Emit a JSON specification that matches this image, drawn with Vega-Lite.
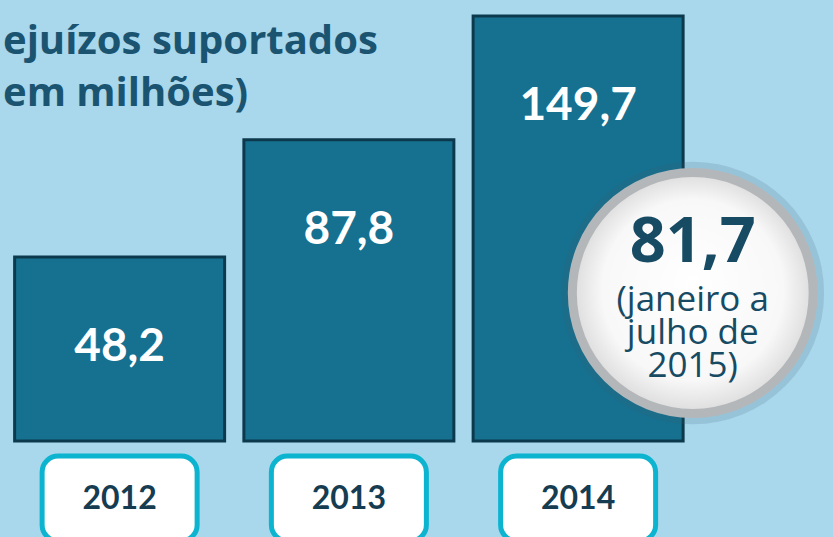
{
  "$schema": "https://vega.github.io/schema/vega-lite/v6.json",
  "background": "#a9d7ec",
  "padding": 0,
  "config": {
    "view": {"stroke": null},
    "locale": {"number": {"decimal": ",", "thousands": ".", "grouping": [3], "currency": ["", " €"]}}
  },
  "spacing": 10,
  "datasets": {
    "anos": [
      {"ano": 2012, "prejuizo": 48.2},
      {"ano": 2013, "prejuizo": 87.8},
      {"ano": 2014, "prejuizo": 149.7}
    ],
    "periodo": [
      {"ano": 2014.5, "prejuizo": 81.7, "rotulo": "(janeiro a\njulho de\n2015)"}
    ]
  },
  "vconcat": [
    {
      "width": 833,
      "height": 441,
      "title": {
        "text": ["ejuízos suportados", "em milhões)"],
        "anchor": "start",
        "frame": "group",
        "orient": "top",
        "offset": -146,
        "baseline": "alphabetic",
        "dx": 3,
        "font": "Open Sans",
        "fontSize": 40,
        "fontWeight": "bold",
        "color": "#1a5470",
        "lineHeight": 52
      },
      "layer": [
        {
          "data": {"name": "anos"},
          "encoding": {
            "x": {"field": "ano", "type": "quantitative", "scale": {"domain": [2011.5, 2015.09], "nice": false, "zero": false}, "axis": null},
            "y": {"field": "prejuizo", "type": "quantitative", "scale": {"type": "pow", "exponent": 0.3, "domain": [14.04, 159.5], "zero": false, "nice": false, "clamp": true}, "axis": null}
          },
          "layer": [
            {"mark": {"type": "bar", "size": 210, "fill": "#167090", "stroke": "#0c3a4c", "strokeWidth": 3},
             "encoding": {"y2": {"datum": 0}}},
            {"mark": {"type": "text", "font": "Lato", "fontWeight": "bold", "fontSize": 46, "color": "#ffffff", "baseline": "middle", "dy": 90},
             "encoding": {"text": {"field": "prejuizo", "type": "quantitative", "format": ".1f"}}}
          ]
        },
        {
          "data": {"name": "periodo"},
          "encoding": {
            "x": {"field": "ano", "type": "quantitative"},
            "y": {"field": "prejuizo", "type": "quantitative", "scale": {"domain": [0, 243.4], "nice": false}, "axis": null}
          },
          "layer": [
            {"mark": {"type": "point", "shape": "circle", "filled": true, "size": 69000, "fill": "#3d5f6e", "opacity": 0.16, "strokeWidth": 0}},
            {"mark": {"type": "point", "shape": "circle", "filled": true, "size": 58000, "opacity": 1, "strokeWidth": 9, "stroke": "#b4b7ba",
              "fill": {"gradient": "radial", "x1": 0.5, "y1": 0.45, "r1": 0, "x2": 0.5, "y2": 0.5, "r2": 0.5,
                "stops": [{"offset": 0, "color": "#ffffff"}, {"offset": 0.75, "color": "#f8f8f8"}, {"offset": 1, "color": "#dcdcdc"}]}}},
            {"mark": {"type": "text", "font": "Open Sans", "fontWeight": "bold", "fontSize": 63, "color": "#174a63", "baseline": "middle", "dy": -50},
             "encoding": {"text": {"field": "prejuizo", "type": "quantitative", "format": ".1f"}}},
            {"mark": {"type": "text", "font": "Open Sans", "fontSize": 35, "color": "#174a63", "baseline": "middle", "dy": 7, "lineBreak": "\n", "lineHeight": 33},
             "encoding": {"text": {"field": "rotulo", "type": "nominal"}}}
          ]
        }
      ],
      "resolve": {"scale": {"y": "independent"}}
    },
    {
      "width": 833,
      "height": 85,
      "data": {"name": "anos"},
      "encoding": {
        "x": {"field": "ano", "type": "quantitative", "scale": {"domain": [2011.5, 2015.09], "nice": false, "zero": false}, "axis": null}
      },
      "layer": [
        {"mark": {"type": "bar", "orient": "vertical", "size": 155, "fill": "#ffffff", "stroke": "#0db4d0", "strokeWidth": 5, "cornerRadius": 16}},
        {"mark": {"type": "text", "font": "Lato", "fontWeight": "bold", "fontSize": 32, "color": "#153c50", "baseline": "middle", "dy": 0},
         "encoding": {"text": {"field": "ano", "type": "nominal"}}}
      ]
    }
  ]
}
